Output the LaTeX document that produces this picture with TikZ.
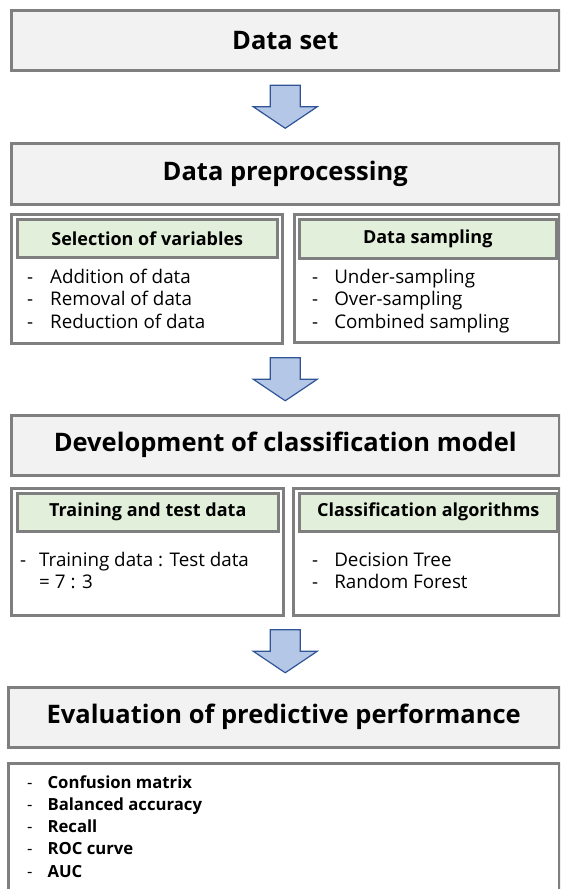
\documentclass[tikz,border=0pt]{standalone}
\usepackage{fontspec}
\setmainfont{Open Sans}
\usetikzlibrary{positioning,calc}
\definecolor{boxgray}{HTML}{7F7F7F}
\definecolor{titlefill}{HTML}{F2F2F2}
\definecolor{headfill}{HTML}{E2EFDA}
\definecolor{arrowfill}{HTML}{B4C7E7}
\definecolor{arrowline}{HTML}{2F5597}
\tikzset{
  stage/.style={draw=boxgray, fill=titlefill, line width=2.5pt, anchor=north west, inner sep=0pt,
    minimum height=60pt, font=\fontsize{25.5}{30}\selectfont\bfseries},
  panel/.style={draw=boxgray, fill=white, line width=2.5pt, anchor=north west, inner sep=0pt},
  tabhead/.style={draw=boxgray, fill=headfill, line width=2.5pt, anchor=north west, inner sep=0pt,
    minimum height=38pt, font=\fontsize{18}{21}\selectfont\bfseries},
  items/.style={anchor=base west, inner sep=0pt, font=\fontsize{18.8}{22.5}\selectfont},
  flow/.style={fill=arrowfill, draw=arrowline, line width=1.2pt, line join=miter},
  blockarrow/.pic={
    \draw[flow] (-15,-21.5) -- (15,-21.5) -- (15,0) -- (32,0) -- (0,21.5) -- (-32,0) -- (-15,0) -- cycle;
  }
}
\begin{document}
\begin{tikzpicture}[x=1pt,y=-1pt]
\useasboundingbox (0,0) rectangle (560,889);
\clip (0,0) rectangle (560,889);

% stages
\node[stage, minimum width=548pt] (set) at (10,9) {Data set};
\node[stage, minimum width=548pt, minimum height=61pt] (prep) at (10,142) {Data preprocessing};
\node[stage, minimum width=548pt] (dev) at (10,414) {Development of classification model};
\node[stage, minimum width=551pt] (eval) at (7,686) {Evaluation of predictive performance};

% data preprocessing
\node[panel, minimum width=271pt, minimum height=129pt] (sel) at (10,213) {};
\node[tabhead, minimum width=260pt] (selhead) at (16,218) {Selection of variables};
\node[items] (selitems) at (27,283) {\begin{tabular}[t]{@{}l@{\hspace{17pt}}l@{}}
  -&Addition of data\\ -&Removal of data\\ -&Reduction of data\end{tabular}};
\node[panel, minimum width=265pt, minimum height=128pt] (samp) at (293,213) {};
\node[tabhead, minimum width=257pt, minimum height=39pt] (samphead) at (298,218) {Data sampling};
\node[items] (sampitems) at (312,283) {\begin{tabular}[t]{@{}l@{\hspace{16pt}}l@{}}
  -&Under-sampling\\ -&Over-sampling\\ -&Combined sampling\end{tabular}};

% classification model
\node[panel, minimum width=272pt, minimum height=127pt] (split) at (10,487) {};
\node[tabhead, minimum width=261pt] (splithead) at (16,492) {Training and test data};
\node[items] (splititems) at (20,566) {\begin{tabular}[t]{@{}l@{\hspace{13pt}}l@{}}
  -&Training data : Test data\\ &= 7 : 3\end{tabular}};
\node[panel, minimum width=266pt, minimum height=127pt] (alg) at (292,487) {};
\node[tabhead, minimum width=258pt] (alghead) at (298,492) {Classification algorithms};
\node[items] (algitems) at (312,566) {\begin{tabular}[t]{@{}l@{\hspace{16pt}}l@{}}
  -&Decision Tree\\ -&Random Forest\end{tabular}};

% evaluation
\node[panel, minimum width=551pt, minimum height=140pt] (metric) at (7,762) {};
\node[items, font=\fontsize{16.7}{22.3}\selectfont] (metricitems) at (27,788) {\begin{tabular}[t]{@{}l@{\hspace{15pt}}l@{}}
  -&\textbf{Confusion matrix}\\ -&\textbf{Balanced accuracy}\\ -&\textbf{Recall}\\
  -&\textbf{ROC curve}\\ -&\textbf{AUC}\end{tabular}};

% arrows
\pic at ($(set.south)!.5!(prep.north)$) {blockarrow};
\pic at ($(dev.north |- sel.south)!.5!(dev.north)$) {blockarrow};
\pic at ($(dev.north |- split.south)!.5!(dev.north |- eval.north)$) {blockarrow};
\end{tikzpicture}
\end{document}
